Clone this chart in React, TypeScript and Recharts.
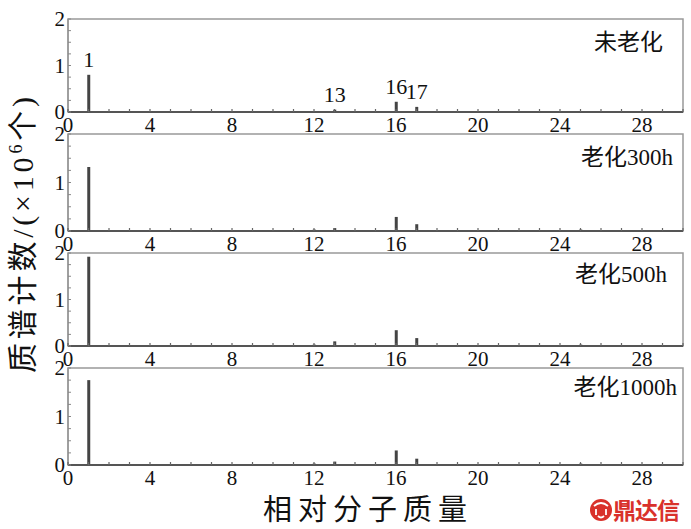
import React from 'react';
import { BarChart, Bar, XAxis, YAxis, ReferenceArea, LabelList } from 'recharts';

// ---- data ----
const masses = [1, 12, 13, 16, 17, 25];
const unaged = [0.8, 0.02, 0.05, 0.22, 0.11, 0.02];
const aged300 = [1.32, 0.03, 0.06, 0.29, 0.14, 0.03];
const aged500 = [1.92, 0.03, 0.1, 0.34, 0.17, 0.03];
const aged1000 = [1.75, 0.03, 0.07, 0.3, 0.13, 0.03];
const peakLabels = ['1', '', '13', '16', '17', ''];
const panelTitles = ['未老化', '老化300h', '老化500h', '老化1000h'];
const xTicks = [0, 1, 2, 3, 4, 5, 6, 7, 8, 9, 10, 11, 12, 13, 14, 15, 16, 17, 18, 19, 20, 21, 22, 23, 24, 25, 26, 27, 28, 29, 30];
const xLabelEvery = 4;
const yTicks = [0, 0.25, 0.5, 0.75, 1, 1.25, 1.5, 1.75, 2];
const xTitle = '相对分子质量';

const seriesList = [unaged, aged300, aged500, aged1000];

// ---- layout ----
const W = 691;
const H = 529;
const plotTops = [19, 134, 253, 368];
const plotHeights = [93, 97, 93, 97];
const titleRight = [663, 673, 667, 677];
const titleBaseOffset = [31, 31, 29, 27];
const TOP_M = 19;
const X_AX_H = 32;
const Y_AX_W = 68;
const RIGHT_M = 8;

const SERIF = "'Liberation Serif', 'Times New Roman', 'Noto Sans CJK SC', serif";
const CJK = "'Noto Sans CJK SC', 'Liberation Serif', serif";

const XTick = (props: any) => {
  const { x, y, payload } = props;
  const v = payload.value;
  return (
    <g>
      <line x1={x} x2={x} y1={y} y2={y - 3} stroke="#666" strokeWidth={1.2} />
      {v % xLabelEvery === 0 && v < 30 ? (
        <text x={x} y={y + 20} textAnchor="middle" fontSize={21} fontFamily={SERIF} fill="#111">
          {v}
        </text>
      ) : null}
    </g>
  );
};

const YTick = (props: any) => {
  const { x, y, payload } = props;
  const v = payload.value;
  const isInt = Math.abs(v - Math.round(v)) < 1e-6;
  return (
    <g>
      <line x1={x} x2={x + 3} y1={y} y2={y} stroke="#888" strokeWidth={1} />
      {isInt ? (
        <text x={x - 3} y={y + 7} textAnchor="end" fontSize={21} fontFamily={SERIF} fill="#111">
          {v}
        </text>
      ) : null}
    </g>
  );
};

const PeakLabel = (props: any) => {
  const { x, y, width, value } = props;
  if (!value) return null;
  return (
    <text x={x + width / 2} y={y - 8} textAnchor="middle" fontSize={22} fontFamily={SERIF} fill="#111">
      {value}
    </text>
  );
};

function Panel({ idx }: { idx: number }) {
  const series = seriesList[idx];
  const data = masses.map((m, i) => ({ mass: m, v: series[i], label: idx === 0 ? peakLabels[i] : '' }));
  const ph = plotHeights[idx];
  const h = TOP_M + ph + X_AX_H;
  return (
    <div style={{ position: 'absolute', left: 0, top: plotTops[idx] - TOP_M, width: W, height: h }}>
      <BarChart width={W} height={h} data={data} margin={{ top: TOP_M, right: RIGHT_M, bottom: 0, left: 0 }}>
        <ReferenceArea x1={0} x2={30} y1={0} y2={2} fill="none" stroke="#999" strokeWidth={1.5} />
        <XAxis
          type="number"
          dataKey="mass"
          domain={[0, 30]}
          ticks={xTicks}
          interval={0}
          height={X_AX_H}
          tickSize={0}
          tickMargin={0}
          tick={<XTick />}
          axisLine={{ stroke: '#555', strokeWidth: 2 }}
          allowDataOverflow
        />
        <YAxis
          type="number"
          domain={[0, 2]}
          ticks={yTicks}
          interval={0}
          width={Y_AX_W}
          tickSize={0}
          tickMargin={0}
          tick={<YTick />}
          axisLine={{ stroke: '#999', strokeWidth: 1.5 }}
          allowDataOverflow
        />
        <Bar dataKey="v" fill="#444" barSize={3} isAnimationActive={false}>
          {idx === 0 ? <LabelList dataKey="label" content={<PeakLabel />} /> : null}
        </Bar>
      </BarChart>
    </div>
  );
}

export default function App() {
  return (
    <div style={{ position: 'absolute', left: 0, top: 0, width: W, height: H, background: '#fff', overflow: 'hidden' }}>
      {[0, 1, 2, 3].map((i) => (
        <Panel key={i} idx={i} />
      ))}
      <svg width={W} height={H} style={{ position: 'absolute', left: 0, top: 0, pointerEvents: 'none' }}>
        {panelTitles.map((t, i) => (
          <text
            key={t}
            x={titleRight[i]}
            y={plotTops[i] + titleBaseOffset[i]}
            textAnchor="end"
            fontSize={23}
            fontFamily={SERIF}
            fill="#111"
          >
            {t}
          </text>
        ))}
        <text
          transform="translate(33,235) rotate(-90)"
          x={0}
          y={0}
          textAnchor="middle"
          fontSize={30}
          fontFamily={SERIF}
          fill="#111"
          textLength={276}
          lengthAdjust="spacing"
        >
          质谱计数/(×10
          <tspan dy={-11} fontSize={18}>6</tspan>
          <tspan dy={11}>个)</tspan>
        </text>
        <text x={365} y={520} textAnchor="middle" fontSize={29} fontFamily={CJK} fill="#111" textLength={204} lengthAdjust="spacing">
          {xTitle}
        </text>
        <g>
          <circle cx={601} cy={510} r={11} fill="#d9312b" />
          <path d="M594 506 Q601 500 608 506 M596 509 L596 515 M606 509 L606 515 M598 516 Q601 519 604 516" stroke="#fff" strokeWidth={1.8} fill="none" />
          <text x={613} y={519} fontSize={23} fontWeight="bold" fontFamily={CJK} fill="#d9312b" textLength={67} lengthAdjust="spacing">
            鼎达信
          </text>
        </g>
      </svg>
    </div>
  );
}
